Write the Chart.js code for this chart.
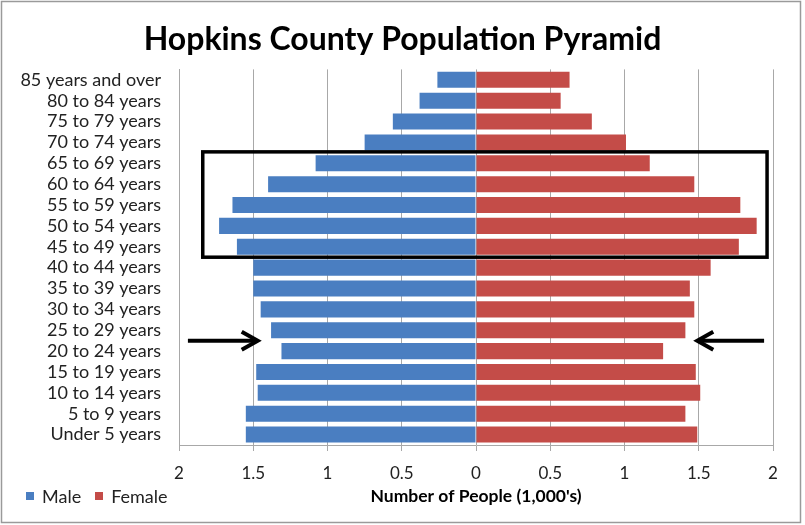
<!DOCTYPE html>
<html>
<head>
<meta charset="utf-8">
<title>Hopkins County Population Pyramid</title>
<script src="https://cdn.jsdelivr.net/npm/chart.js@4/dist/chart.umd.min.js"></script>
<style>
    body { margin: 0; background: #fff; }
    #wrap { position: relative; width: 805px; height: 525px; }
    #legend {
        position: absolute; left: 26px; top: 485px;
        font-family: Lato, sans-serif; font-size: 18px; color: #222;
    }
    #legend span.item { margin-right: 14px; }
    #legend span.box {
        display: inline-block; width: 8px; height: 8px; margin-right: 8px;
        vertical-align: 3px;
    }
</style>
</head>
<body>
<div id="wrap">
    <canvas id="pyramid" width="805" height="525"></canvas>
    <div id="legend"></div>
</div>
<script>
// age groups, oldest at the top
const ageGroups = [
    '85 years and over', '80 to 84 years', '75 to 79 years', '70 to 74 years',
    '65 to 69 years', '60 to 64 years', '55 to 59 years', '50 to 54 years',
    '45 to 49 years', '40 to 44 years', '35 to 39 years', '30 to 34 years',
    '25 to 29 years', '20 to 24 years', '15 to 19 years', '10 to 14 years',
    '5 to 9 years', 'Under 5 years'
];

// people, in thousands
const maleValues = [0.26, 0.38, 0.56, 0.75, 1.08, 1.40, 1.64, 1.73, 1.61,
                    1.50, 1.50, 1.45, 1.38, 1.31, 1.48, 1.47, 1.55, 1.55];
const femaleValues = [0.63, 0.57, 0.78, 1.01, 1.17, 1.47, 1.78, 1.89, 1.77,
                      1.58, 1.44, 1.47, 1.41, 1.26, 1.48, 1.51, 1.41, 1.49];

const xTicks = [-2, -1.5, -1, -0.5, 0, 0.5, 1, 1.5, 2];

// callouts drawn on top of the bars
const boxGroups = ['65 to 69 years', '45 to 49 years'];
const boxRange = [-1.84, 1.96];
const arrowBetween = ['25 to 29 years', '20 to 24 years'];
const leftArrow = [-1.94, -1.47];   // tail, tip
const rightArrow = [1.94, 1.49];

const FONT = 'Lato, sans-serif';

// black highlight box, the two arrows and the outer frame
const calloutPlugin = {
    id: 'callouts',
    beforeDraw(chart) {
        const ctx = chart.ctx;
        ctx.save();
        ctx.fillStyle = '#fff';
        ctx.fillRect(0, 0, chart.width, chart.height);
        ctx.strokeStyle = '#9a9a9a';
        ctx.lineWidth = 1.5;
        ctx.strokeRect(1.5, 1.5, chart.width - 6, chart.height - 4);
        ctx.restore();
    },
    afterDraw(chart) {
        const ctx = chart.ctx;
        const x = chart.scales.x, y = chart.scales.y;
        const band = y.height / ageGroups.length;

        ctx.save();
        ctx.strokeStyle = '#000';
        ctx.lineWidth = 3.5;
        const top = y.getPixelForValue(ageGroups.indexOf(boxGroups[0])) - band / 2 - 1;
        const bottom = y.getPixelForValue(ageGroups.indexOf(boxGroups[1])) + band / 2;
        const left = x.getPixelForValue(boxRange[0]);
        const right = x.getPixelForValue(boxRange[1]);
        ctx.strokeRect(left, top, right - left, bottom - top);

        const ay = (y.getPixelForValue(ageGroups.indexOf(arrowBetween[0])) +
                    y.getPixelForValue(ageGroups.indexOf(arrowBetween[1]))) / 2;
        [leftArrow, rightArrow].forEach(a => {
            const tail = x.getPixelForValue(a[0]);
            const tip = x.getPixelForValue(a[1]);
            const dir = tip > tail ? 1 : -1;
            ctx.lineWidth = 4;
            ctx.lineCap = 'butt';
            ctx.beginPath();
            ctx.moveTo(tail, ay);
            ctx.lineTo(tip - dir * 2, ay);
            ctx.stroke();
            ctx.lineJoin = 'miter';
            ctx.beginPath();
            ctx.moveTo(tip - dir * 16, ay - 9);
            ctx.lineTo(tip, ay);
            ctx.lineTo(tip - dir * 16, ay + 9);
            ctx.stroke();
        });
        ctx.restore();
    }
};

const chart = new Chart(document.getElementById('pyramid'), {
    type: 'bar',
    data: {
        labels: ageGroups,
        datasets: [{
            label: 'Male',
            data: maleValues.map(v => -v),
            backgroundColor: '#4A7EC1'
        }, {
            label: 'Female',
            data: femaleValues,
            backgroundColor: '#C44C48'
        }]
    },
    options: {
        responsive: false,
        animation: false,
        indexAxis: 'y',
        categoryPercentage: 1,
        barPercentage: 0.77,
        layout: { padding: 0 },
        plugins: {
            legend: { display: false },
            tooltip: { enabled: false },
            title: {
                display: true,
                text: 'Hopkins County Population Pyramid',
                color: '#000',
                font: { family: FONT, size: 32, weight: 'bold' },
                padding: { top: 20, bottom: 11 }
            }
        },
        scales: {
            x: {
                stacked: true,
                min: -2,
                max: 2,
                afterBuildTicks: scale => {
                    scale.ticks = xTicks.map(v => ({ value: v }));
                },
                afterFit: scale => { scale.height = 80; },
                ticks: {
                    color: '#222',
                    padding: 12,
                    font: { family: FONT, size: 17 },
                    callback: v => Math.abs(v)
                },
                grid: { color: '#a8a8a8', tickColor: '#a8a8a8', tickLength: 6 },
                border: { color: '#a8a8a8' },
                title: {
                    display: true,
                    text: "Number of People (1,000's)",
                    color: '#000',
                    font: { family: FONT, size: 17.5, weight: 'bold' },
                    padding: { top: 0, bottom: 18 }
                }
            },
            y: {
                stacked: true,
                afterFit: scale => { scale.width = 179; },
                ticks: {
                    color: '#222',
                    padding: 18,
                    autoSkip: false,
                    font: { family: FONT, size: 18 }
                },
                grid: { display: false, drawTicks: false },
                border: { color: '#a8a8a8' }
            },
            // empty strip on the right so the plot ends short of the frame
            rightMargin: {
                type: 'category',
                position: 'right',
                grid: { display: false, drawTicks: false },
                border: { display: false },
                ticks: { display: false },
                afterFit: scale => { scale.width = 32; }
            }
        }
    },
    plugins: [calloutPlugin]
});

// legend row beside the axis title
const legend = document.getElementById('legend');
chart.data.datasets.forEach(ds => {
    const item = document.createElement('span');
    item.className = 'item';
    item.innerHTML = `<span class="box" style="background:${ds.backgroundColor}"></span>${ds.label}`;
    legend.appendChild(item);
});
</script>
</body>
</html>
